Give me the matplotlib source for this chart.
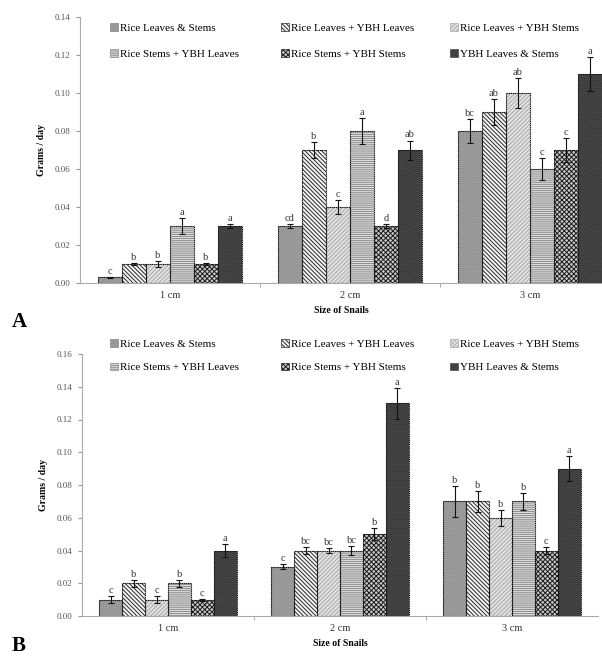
import matplotlib
matplotlib.use("Agg")
import matplotlib.pyplot as plt
import numpy as np
from matplotlib.patches import Patch

plt.rcParams['font.family'] = ['Liberation Serif', 'DejaVu Serif']

categories = ["1 cm", "2 cm", "3 cm"]
series = ["Rice Leaves & Stems", "Rice Leaves + YBH Leaves", "Rice Leaves + YBH Stems",
          "Rice Stems + YBH Leaves", "Rice Stems + YBH Stems", "YBH Leaves & Stems"]

# Panel A values (rows = series, cols = categories)
a_vals = [[0.003, 0.03, 0.08],
          [0.01, 0.07, 0.09],
          [0.01, 0.04, 0.10],
          [0.03, 0.08, 0.06],
          [0.01, 0.03, 0.07],
          [0.03, 0.07, 0.11]]
a_errs = [[0.0003, 0.001, 0.0065],
          [0.0006, 0.004, 0.007],
          [0.0015, 0.0035, 0.008],
          [0.004, 0.007, 0.006],
          [0.0006, 0.001, 0.0065],
          [0.0012, 0.005, 0.009]]
a_letters = [["c", "cd", "bc"],
             ["b", "b", "ab"],
             ["b", "c", "ab"],
             ["a", "a", "c"],
             ["b", "d", "c"],
             ["a", "ab", "a"]]

# Panel B values
b_vals = [[0.01, 0.03, 0.07],
          [0.02, 0.04, 0.07],
          [0.01, 0.04, 0.06],
          [0.02, 0.04, 0.07],
          [0.01, 0.05, 0.04],
          [0.04, 0.13, 0.09]]
b_errs = [[0.002, 0.0015, 0.0095],
          [0.002, 0.002, 0.0065],
          [0.002, 0.0015, 0.005],
          [0.002, 0.0025, 0.005],
          [0.0006, 0.0035, 0.002],
          [0.004, 0.0095, 0.0075]]
b_letters = [["c", "c", "b"],
             ["b", "bc", "b"],
             ["c", "bc", "b"],
             ["b", "bc", "b"],
             ["c", "b", "c"],
             ["a", "a", "a"]]

a_yticks = [0.00, 0.02, 0.04, 0.06, 0.08, 0.10, 0.12, 0.14]
b_yticks = [0.00, 0.02, 0.04, 0.06, 0.08, 0.10, 0.12, 0.14, 0.16]

# styles: (facecolor, hatch, hatchcolor)
styles = [("#a0a0a0", "........", "#8a8a8a"),
          ("#f4f4f4", "\\\\\\\\\\\\\\\\", "#2a2a2a"),
          ("#e2e2e2", "////////", "#a8a8a8"),
          ("#dedede", "--------", "#8c8c8c"),
          ("#c8c8c8", "xxxxxxx", "#1e1e1e"),
          ("#3a3a3a", "........", "#505050")]

plt.rcParams['hatch.linewidth'] = 0.7

fig = plt.figure(figsize=(6.02, 6.59), dpi=100)

W, H = 602.0, 659.0


def draw_panel(rect, vals, errs, letters, yticks, ymax, xmax, leg_rows_y, leg_cols_x, lspace):
    ax = fig.add_axes(rect)
    x = np.arange(len(categories))
    n = len(series)
    bw = 0.8 / n
    for i in range(n):
        fc, hatch, hc = styles[i]
        pos = x - 0.4 + bw * (i + 0.5)
        ax.bar(pos, vals[i], bw, color=fc, hatch=hatch, edgecolor=hc, linewidth=0, zorder=2)
        ax.bar(pos, vals[i], bw, facecolor='none', edgecolor='#1a1a1a', linewidth=0.8,
               linestyle=(0, (1.2, 0.5)), zorder=3)
        ax.errorbar(pos, vals[i], yerr=errs[i], fmt='none', ecolor='#111111',
                    elinewidth=0.8, capsize=2, capthick=0.8, zorder=4)
        for j in range(len(categories)):
            ax.text(pos[j], vals[i][j] + errs[i][j] + ymax * 0.004, letters[i][j],
                    ha='center', va='bottom', fontsize=7.5, color='#333333', zorder=5)
    ax.set_xlim(-0.5, xmax)
    ax.set_ylim(0, ymax)
    ax.set_yticks(yticks)
    ax.set_yticklabels([f"{t:.2f}" for t in yticks], fontsize=6.5, color='#555555')
    ax.set_xticks(x)
    ax.set_xticklabels(categories, fontsize=7.5, color='#333333')
    ax.tick_params(axis='x', which='major', length=0, pad=6)
    ax.set_xticks([0.5, 1.5], minor=True)
    ax.tick_params(axis='x', which='minor', length=3, color='#999999')
    ax.tick_params(axis='y', length=3, color='#999999', pad=4)
    for s in ['top', 'right']:
        ax.spines[s].set_visible(False)
    for s in ['left', 'bottom']:
        ax.spines[s].set_color('#aaaaaa')
        ax.spines[s].set_linewidth(0.8)
    ax.set_xlabel("Size of Snails", fontsize=7, fontweight='bold', labelpad=4)
    ax.set_ylabel("Grams / day", fontsize=7, fontweight='bold', labelpad=6)
    ax.patch.set_alpha(0)

    # legends: three columns of two entries each
    order_cols = [[0, 3], [1, 4], [2, 5]]
    for c, idxs in enumerate(order_cols):
        handles = [Patch(facecolor=styles[k][0], hatch=styles[k][1], edgecolor=styles[k][2],
                         linewidth=0.5) for k in idxs]
        fig.legend(handles, [series[k] for k in idxs], loc='upper left',
                   bbox_to_anchor=(leg_cols_x[c] / W, 1 - leg_rows_y / H),
                   frameon=False, fontsize=8, handlelength=0.7, handleheight=0.7,
                   handletextpad=0.2, labelspacing=lspace, borderpad=0, borderaxespad=0)
    return ax


# Panel A: axis from x=80, zero at y=283, top (0.14) at y=17
axA = draw_panel([80 / W, 1 - 283 / H, 1 - 80 / W, (283 - 17) / H],
                 a_vals, a_errs, a_letters, a_yticks, 0.14, -0.5 + 522 / 180,
                 23, [110, 281, 450], 1.45)
# Panel B: axis from x=82 to 598, zero at y=616, top (0.16) at y=354
axB = draw_panel([82 / W, 1 - 616 / H, (598 - 82) / W, (616 - 354) / H],
                 b_vals, b_errs, b_letters, b_yticks, 0.16, 2.5,
                 339, [110, 281, 450], 1.25)

fig.text(12 / W, 1 - 322 / H, "A", fontsize=15, fontweight='bold', ha='left', va='center')
fig.text(12 / W, 1 - 646 / H, "B", fontsize=15, fontweight='bold', ha='left', va='center')

fig.savefig("out.png", dpi=100)
